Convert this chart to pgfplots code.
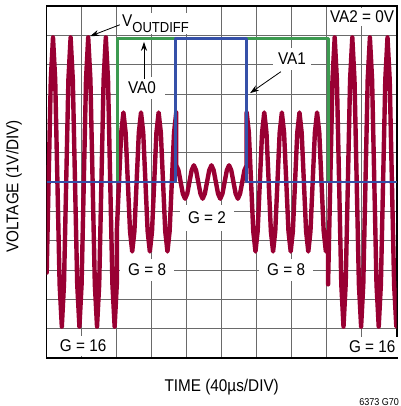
\documentclass[border=0pt]{standalone}
\usepackage{pgfplots}
\pgfplotsset{compat=1.18}
\usepackage{fontspec}
\setmainfont{Liberation Sans}[FakeStretch=0.9]
\usetikzlibrary{arrows.meta}
\definecolor{sigred}{HTML}{990033}
\definecolor{vagreen}{HTML}{3C9A50}
\definecolor{vablue}{HTML}{3550A8}
\definecolor{gridgray}{HTML}{6A6A6A}
\begin{document}
\begin{tikzpicture}[
  lab/.style={font=\fontsize{17}{20}\selectfont, fill=white, inner xsep=7pt, inner ysep=5pt},
  arr/.style={line width=0.8pt, -{Stealth[length=9pt,width=6pt]}}
]
\begin{axis}[
  at={(0,0)}, anchor=south west,
  scale only axis, width=350pt, height=352pt,
  xmin=0, xmax=10, ymin=-6, ymax=6,
  xtick={0,1,...,10}, ytick={-6,-5,...,6},
  xticklabels={}, yticklabels={},
  major tick length=0pt,
  grid=major,
  major grid style={gridgray, line width=0.9pt},
  axis line style={black, line width=1.6pt},
  clip mode=individual,
]
% differential output
\addplot[sigred, line width=4.4pt, line join=round, line cap=round] coordinates {
(0,-3.09) (0.054,0) (0.117,3.49) (0.180,4.93) (0.243,3.49) (0.306,0) (0.369,-3.49) (0.432,-4.93) (0.494,-3.49) (0.557,0) (0.620,3.49) (0.683,4.93) (0.746,3.49) (0.809,0) (0.872,-3.49) (0.935,-4.93) (0.997,-3.49) (1.060,0) (1.123,3.49) (1.186,4.93) (1.249,3.49) (1.312,0) (1.375,-3.49) (1.438,-4.93) (1.500,-3.49) (1.563,0) (1.626,3.49) (1.689,4.93) (1.752,3.49) (1.815,0) (1.878,-3.49) (1.941,-4.93) (2.003,-3.49)
(2.003,-1.68) (2.066,0) (2.129,1.68) (2.192,2.37) (2.255,1.68) (2.318,0) (2.381,-1.68) (2.443,-2.37) (2.506,-1.68) (2.569,0) (2.632,1.68) (2.695,2.37) (2.758,1.68) (2.821,0) (2.884,-1.68) (2.947,-2.37) (3.009,-1.68) (3.072,0) (3.135,1.68) (3.198,2.37) (3.261,1.68) (3.324,0) (3.387,-1.68) (3.450,-2.37) (3.512,-1.68) (3.575,0) (3.638,1.68) (3.701,2.37)
(3.701,0.57) (3.764,0.40) (3.827,0) (3.890,-0.40) (3.953,-0.57) (4.015,-0.40) (4.078,0) (4.141,0.40) (4.204,0.57) (4.267,0.40) (4.330,0) (4.393,-0.40) (4.456,-0.57) (4.518,-0.40) (4.581,0) (4.644,0.40) (4.707,0.57) (4.770,0.40) (4.833,0) (4.896,-0.40) (4.959,-0.57) (5.021,-0.40) (5.084,0) (5.147,0.40) (5.210,0.57) (5.273,0.40) (5.336,0) (5.399,-0.40) (5.462,-0.57) (5.524,-0.40) (5.587,0) (5.650,0.40) (5.713,0.57)
(5.713,2.37) (5.776,1.68) (5.839,0) (5.902,-1.68) (5.965,-2.37) (6.027,-1.68) (6.090,0) (6.153,1.68) (6.216,2.37) (6.279,1.68) (6.342,0) (6.405,-1.68) (6.468,-2.37) (6.530,-1.68) (6.593,0) (6.656,1.68) (6.719,2.37) (6.782,1.68) (6.845,0) (6.908,-1.68) (6.971,-2.37) (7.033,-1.68) (7.096,0) (7.159,1.68) (7.222,2.37) (7.285,1.68) (7.348,0) (7.411,-1.68) (7.474,-2.37) (7.536,-1.68) (7.599,0) (7.662,1.68) (7.725,2.37) (7.788,1.68) (7.851,0) (7.914,-1.68) (7.977,-2.37) (8.039,-1.68)
(8.039,-3.49) (8.102,0) (8.165,3.49) (8.228,4.93) (8.291,3.49) (8.354,0) (8.417,-3.49) (8.480,-4.93) (8.542,-3.49) (8.605,0) (8.668,3.49) (8.731,4.93) (8.794,3.49) (8.857,0) (8.920,-3.49) (8.983,-4.93) (9.045,-3.49) (9.108,0) (9.171,3.49) (9.234,4.93) (9.297,3.49) (9.360,0) (9.423,-3.49) (9.486,-4.93) (9.548,-3.49) (9.611,0) (9.674,3.49) (9.737,4.93) (9.800,3.49) (9.863,0) (9.926,-3.49) (9.989,-4.93) (10,-4.88)
};
% VA0
\addplot[vagreen, line width=2.6pt, line join=round] coordinates {
(0,0) (2.017,0) (2.017,4.9) (8.046,4.9) (8.046,0) (10,0)
};
% VA1
\addplot[vablue, line width=2.6pt, line join=round] coordinates {
(0,0) (3.686,0) (3.686,4.9) (5.714,4.9) (5.714,0) (10,0)
};
% annotations
\node[lab, anchor=base west, inner xsep=2pt, inner ysep=2pt] at (axis cs:2.094,5.295) {V\raisebox{-0.32em}{\fontsize{14.5}{16}\selectfont OUTDIFF}};
\draw[arr] (axis cs:2.09,5.36) -- (axis cs:1.24,4.97);
\node[lab, inner xsep=9pt] at (axis cs:2.72,3.2) {VA0};
\draw[arr] (axis cs:2.78,3.52) -- (axis cs:2.78,4.78);
\node[lab, inner xsep=5pt] at (axis cs:7.01,4.19) {VA1};
\draw[arr] (axis cs:6.69,3.76) -- (axis cs:5.81,3.03);
\node[lab, inner xsep=2pt, inner ysep=3pt] at (axis cs:9.01,5.63) {VA2 = 0V};
\node[lab, inner xsep=8pt, inner ysep=7pt] at (axis cs:4.58,-1.23) {G = 2};
\node[lab, inner xsep=8pt] at (axis cs:2.87,-3.0) {G = 8};
\node[lab, inner xsep=8pt] at (axis cs:6.84,-3.0) {G = 8};
\node[lab, inner xsep=8pt, inner ysep=4pt] at (axis cs:1.04,-5.59) {G = 16};
\node[lab, inner xsep=8pt, inner ysep=4pt] at (axis cs:9.30,-5.63) {G = 16};
% axis titles
\node[font=\fontsize{17}{20}\selectfont] at (axis cs:5,-6.99) {TIME (40µs/DIV)};
\node[font=\fontsize{17}{20}\selectfont, rotate=90] at (axis cs:-0.934,-0.15) {VOLTAGE (1V/DIV)};
\node[font=\fontsize{10}{12}\selectfont, anchor=north east, inner sep=0pt] at (axis cs:10.07,-7.36) {6373 G70};
\end{axis}
\pgfresetboundingbox
\path[use as bounding box] (-46.7pt,-48pt) rectangle (353.3pt,358pt);
\end{tikzpicture}
\end{document}
